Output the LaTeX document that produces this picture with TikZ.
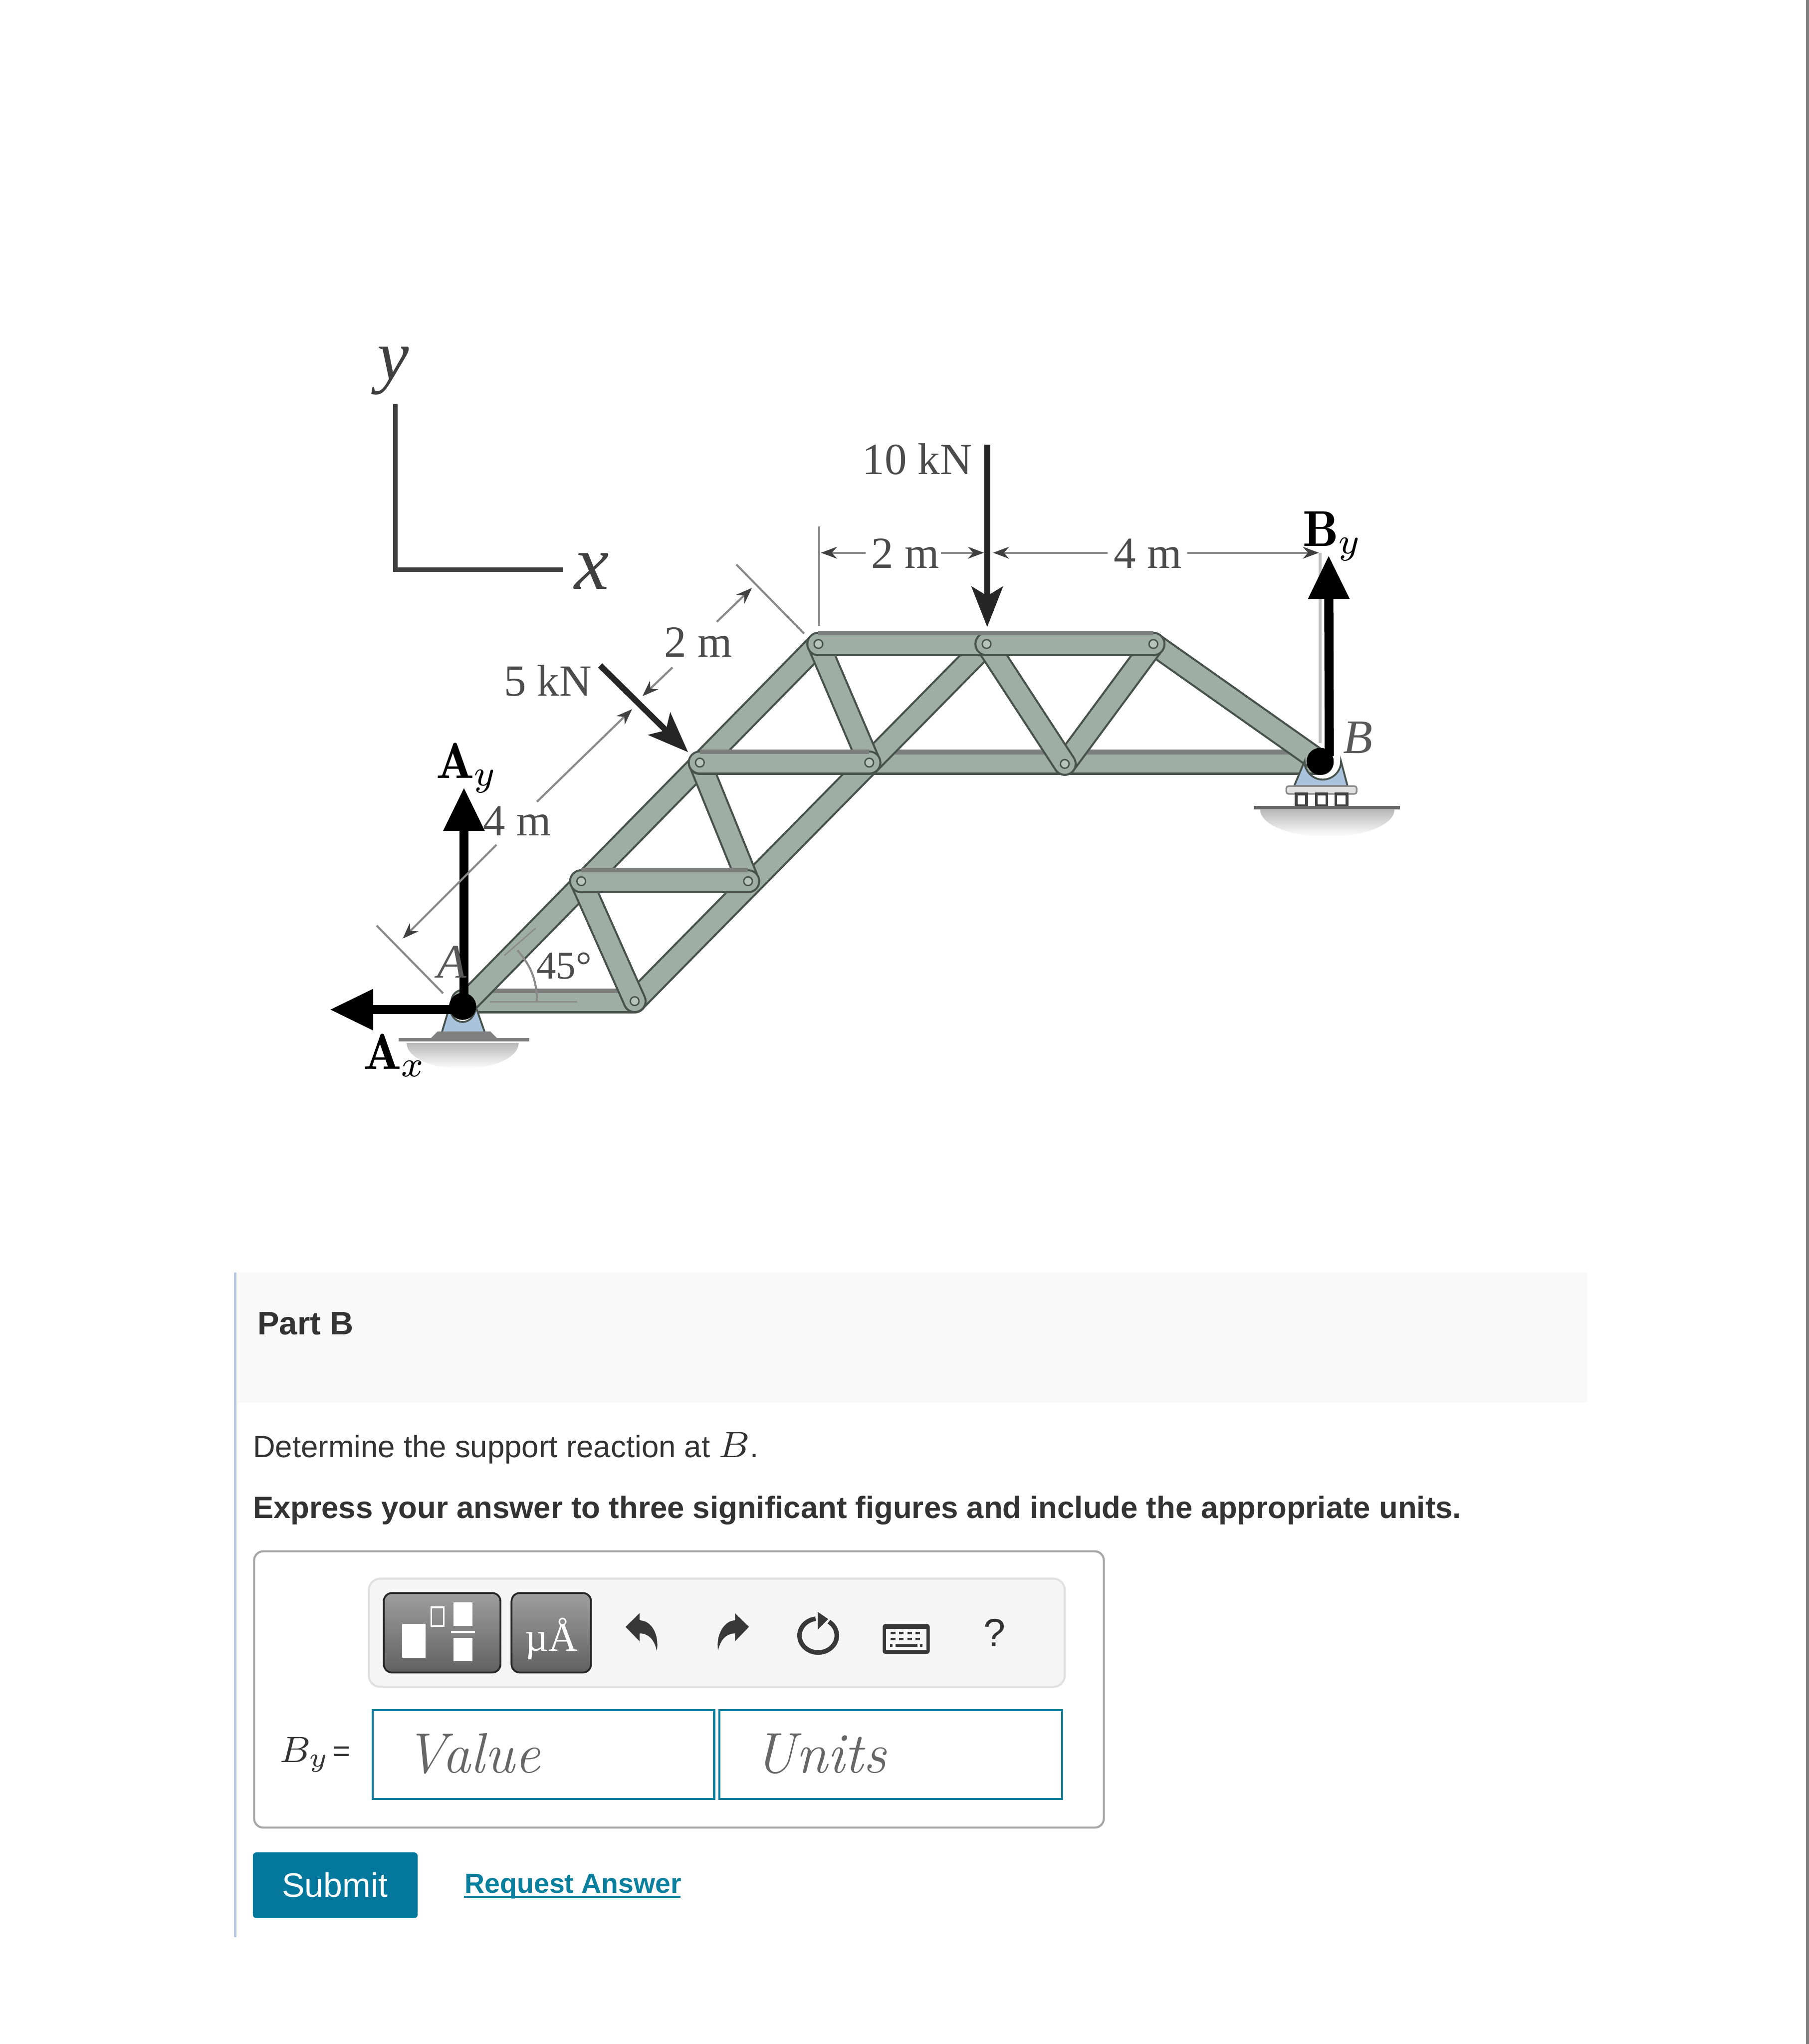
\documentclass[tikz,border=0pt]{standalone}
\usepackage{fontspec}
\usepackage{xcolor}
\usetikzlibrary{
	arrows.meta,
	calc
}
\newfontfamily\arialfont{Liberation Sans}
\newfontfamily\timesfont{Liberation Serif}
\definecolor{trussgray}{HTML}{9EAEA5}
\definecolor{trussdark}{HTML}{47524D}
\definecolor{trussedge}{HTML}{7D7F7E}
\definecolor{pinfill}{HTML}{B8C3BC}
\definecolor{gusset}{HTML}{A9C3DC}
\definecolor{dimgray}{HTML}{8A8A8A}
\definecolor{bodygray}{HTML}{333333}
\definecolor{linkblue}{HTML}{0B7F9E}
\definecolor{buttonblue}{HTML}{04789C}
\definecolor{inputblue}{HTML}{0B7A9C}
\definecolor{partrule}{HTML}{B7CBE0}
\tikzset{
	member/.style={draw=trussdark, line width=.45pt, double=trussgray, double distance=4.3pt, line cap=round},
	barmember/.style={draw=trussdark, line width=.45pt, double=trussgray, double distance=4.4pt, line cap=round},
	baredge/.style={draw=trussedge, line width=1pt},
	jointpin/.style={circle, draw=trussdark, fill=pinfill, line width=.3pt, minimum size=1.9pt, inner sep=0pt},
	blackpin/.style={circle, fill=black, minimum size=5.9pt, inner sep=0pt},
	reaction/.style={black, line width=2pt, -{Triangle[length=9.5pt,width=8.5pt]}},
	loadarrow/.style={draw=black!85, line width=1.3pt, -{Stealth[length=8.8pt,width=6.8pt,inset=2pt]}},
	dimline/.style={draw=dimgray, line width=.45pt},
	dimtip/.style={draw=dimgray, line width=.45pt, -{Stealth[length=3.5pt,width=2.6pt,black!75]}},
	dimtext/.style={anchor=base west, inner sep=0pt, text=black!70, font=\timesfont\fontsize{9.7}{11}\selectfont},
	forcetext/.style={anchor=base west, inner sep=0pt, text=black, font=\fontsize{11}{13}\selectfont},
	axistext/.style={anchor=base west, inner sep=0pt, text=black!75, font=\timesfont\itshape\fontsize{17}{20}\selectfont},
	pointtext/.style={anchor=base west, inner sep=0pt, text=black!65, font=\timesfont\itshape\fontsize{10.5}{12}\selectfont},
	webtext/.style={anchor=base west, inner sep=0pt, text=bodygray, font=\arialfont\fontsize{6.72}{9}\selectfont},
	webbold/.style={webtext, font=\arialfont\bfseries\fontsize{6.72}{9}\selectfont},
	inputbox/.style={draw=inputblue, line width=.45pt, fill=white},
	toolbutton/.style={draw=black!85, line width=.4pt, rounded corners=1.8pt, top color=black!38, bottom color=black!62},
	whitebox/.style={fill=white, draw=none},
	icondark/.style={fill=black!78, draw=none}
}
\begin{document}
\begin{tikzpicture}[x=.01cm, y=-.01cm]
	\useasboundingbox (0,0) rectangle (1388,1568);
	\draw[black!50, line width=.6pt] (1387,0) to (1387,1568);

	\coordinate (A) at (355,772);
	\coordinate (Abar) at (355,768);
	\coordinate (C) at (487,768);
	\coordinate (D) at (446,676);
	\coordinate (E) at (574,676);
	\coordinate (F) at (537,585);
	\coordinate (G) at (667,585);
	\coordinate (H) at (628,494);
	\coordinate (I) at (757,494);
	\coordinate (J) at (885,494);
	\coordinate (K) at (817,586);
	\coordinate (B) at (1014,585);

	\draw[black!75, line width=1pt] (303.5,310) to (303.5,437) to (432,437);
	\node[axistext, font=\timesfont\itshape\fontsize{15.5}{18}\selectfont] (ylabel) at (289,291) {y};
	\node[axistext] (xlabel) at (440,452) {x};

	\shade[top color=black!28, bottom color=white] (312,800) arc[start angle=180, end angle=0, x radius=43, y radius=20] -- cycle;
	\shade[top color=black!28, bottom color=white] (967,621) arc[start angle=180, end angle=0, x radius=51.5, y radius=21] -- cycle;

	\draw[barmember] (Abar) to (C);
	\draw[barmember] (G) to (B);
	\draw[baredge] ([yshift=2.3pt]Abar) to ([yshift=2.3pt]C);
	\draw[baredge] ([yshift=2.3pt]G) to ([yshift=2.3pt]B);
	\draw[member] (A) to (H);
	\draw[member] (C) to (I);
	\draw[member] (J) to (B);
	\draw[member] (H) to (G);
	\draw[member] (F) to (E);
	\draw[member] (D) to (C);
	\draw[member] (J) to (K);
	\draw[member] (I) to (K);
	\draw[barmember] (D) to (E);
	\draw[barmember] (F) to (G);
	\draw[barmember] (H) to (I);
	\draw[barmember] (I) to (J);
	\draw[baredge] ([yshift=2.4pt]D) to ([yshift=2.4pt]E);
	\draw[baredge] ([yshift=2.4pt]F) to ([yshift=2.4pt]G);
	\draw[baredge] ([yshift=2.4pt]H) to ([yshift=2.4pt]J);
	\draw[black!45, line width=.3pt] (376,768.5) to (443,768.5);
	\draw[black!45, line width=.3pt] (387,733) to (411,712);

	\node[jointpin] (pinC) at (C) {};
	\node[jointpin] (pinD) at (D) {};
	\node[jointpin] (pinE) at (E) {};
	\node[jointpin] (pinF) at (F) {};
	\node[jointpin] (pinG) at (G) {};
	\node[jointpin] (pinH) at (H) {};
	\node[jointpin] (pinI) at (I) {};
	\node[jointpin] (pinJ) at (J) {};
	\node[jointpin] (pinK) at (K) {};

	\draw[trussdark, fill=gusset, line width=.4pt] (339,792) to (345,772) arc[start angle=180, end angle=360, x radius=10, y radius=-12] to (372,792) to cycle;
	\draw[fill=black!50, draw=black!50] (336,792) to (376,792) to (381,797) to (331,797) to cycle;
	\draw[black!50, line width=.8pt] (306,797.5) to (406,797.5);
	\draw[trussdark, fill=gusset, line width=.4pt] (993,603) to (1001,584) arc[start angle=180, end angle=360, x radius=14, y radius=-14] to (1034,603) to cycle;
	\draw[fill=black!12, draw=black!45, line width=.35pt, rounded corners=.5pt] (987,603) rectangle (1041,609);
	\draw[fill=white, draw=black!75, line width=.6pt] (994.5,609) rectangle (1002.5,618);
	\draw[fill=white, draw=black!75, line width=.6pt] (1010,609) rectangle (1018,618);
	\draw[fill=white, draw=black!75, line width=.6pt] (1025,609) rectangle (1033.5,618);
	\draw[black!60, line width=.7pt] (962,619.5) to (1074,619.5);

	\node[blackpin] (pinA) at (A) {};
	\node[blackpin] (pinB) at (1013,584) {};

	\coordinate (Aytip) at (356,604);
	\coordinate (Axtip) at (253,774.5);
	\coordinate (Bytail) at (1020,580);
	\coordinate (Bytip) at (1019.5,426);
	\draw[reaction] ($(A)+(1,0)$) to (Aytip);
	\draw[reaction] ($(A)+(0,2.5)$) to (Axtip);
	\draw[black!25, line width=.7pt] (1013,424) to (1013,570);
	\draw[reaction] (Bytail) to (Bytip);

	\coordinate (tenkntop) at (757.5,341);
	\coordinate (tenkntip) at (757.5,481);
	\coordinate (fivekntop) at (460.5,510.5);
	\coordinate (fivekntip) at (528,577);
	\draw[loadarrow] (tenkntop) to (tenkntip);
	\draw[loadarrow] (fivekntop) to (fivekntip);

	\draw[dimline] (628.5,404) to (628.5,480);
	\draw[dimtip] (664,424) to (630,424);
	\draw[dimtip] (722,424) to (755,424);
	\draw[dimtip] (796,424) to (762,424);
	\draw[dimline] (796,424) to (850,424);
	\draw[dimtip] (911,424) to (1012,424);
	\draw[dimline] (565,433) to (617,486);
	\draw[dimline] (289,710) to (340,762);
	\draw[dimtip] (550,477) to (577,451);
	\draw[dimtip] (516,512) to (493,534);
	\draw[dimtip] (412,615) to (485,544);
	\draw[dimtip] (381,648) to (309,720);

	\node[dimtext] (tenkn) at (661,364) {10 kN};
	\node[dimtext] (fivekn) at (386,534) {5 kN};
	\node[dimtext] (topleft) at (668,436) {2 m};
	\node[dimtext] (topright) at (854,436) {4 m};
	\node[dimtext] (slopetop) at (509,504) {2 m};
	\node[dimtext] (slopelow) at (370,641) {4 m};
	\node[dimtext, font=\timesfont\fontsize{8.6}{10}\selectfont] (angle) at (411,751) {45°};
	\draw[dimline] (397,729) to[bend left=20] (412,768);
	\node[pointtext] (labelA) at (335,750) {A};
	\node[pointtext] (labelB) at (1030,578) {B};
	\node[forcetext] (labelAy) at (334,597) {$\mathbf{A}_y$};
	\node[forcetext] (labelAx) at (278,820) {$\mathbf{A}_x$};
	\node[forcetext] (labelBy) at (999,419) {$\mathbf{B}_y$};

	\fill[black!2.5] (182,976) rectangle (1218,1076);
	\draw[partrule, line width=.5pt] (180.5,976) to (180.5,1486);
	\node[webbold, font=\arialfont\bfseries\fontsize{7.1}{9}\selectfont] (partb) at (197,1024) {Part B};
	\node[webtext] (question) at (193.5,1118) {Determine the support reaction at {\fontsize{8.3}{9}\selectfont$B$}.};
	\node[webbold] (express) at (193.5,1164.5) {Express your answer to three significant figures and include the appropriate units.};

	\draw[black!35, line width=.45pt, rounded corners=2pt] (195,1190) rectangle (847,1402);
	\draw[black!12, line width=.45pt, rounded corners=2.5pt, fill=black!4] (283,1211) rectangle (817,1294);
	\draw[toolbutton] (294.5,1222) rectangle (384,1283);
	\draw[toolbutton] (392.5,1222) rectangle (453.5,1283);
	\fill[whitebox] (308.5,1245.5) rectangle (326.5,1271.5);
	\draw[white, line width=.35pt] (331,1233) rectangle (340.5,1247.5);
	\fill[whitebox] (348,1229) rectangle (362.5,1247);
	\fill[whitebox] (346,1251) rectangle (364.5,1252.8);
	\fill[whitebox] (348,1256.5) rectangle (362.5,1274.5);
	\node[anchor=base, inner sep=0pt, text=white, font=\timesfont\fontsize{8.8}{11}\selectfont] (mulabel) at (423,1266.5) {µÅ};

	\fill[icondark] (480,1248) to (490.7,1237.5) to (490.7,1243) .. controls (500,1243) and (506,1254) .. (504,1266.5) .. controls (502,1257) and (497,1253) .. (490.7,1253) to (490.7,1259) to cycle;
	\fill[icondark] (574.7,1248) to (564,1237.5) to (564,1243) .. controls (556,1243) and (549,1254) .. (551,1266) .. controls (553,1257) and (558,1253) .. (564,1253) to (564,1259) to cycle;
	\coordinate (reloadstart) at (636,1244);
	\draw[black!78, line width=1pt] (reloadstart) arc[start angle=-55, end angle=262, x radius=14.3, y radius=13];
	\fill[icondark] (635.5,1242) to (627.5,1236.5) to (627.5,1250) to cycle;
	\draw[black!78, fill=black!78, rounded corners=.4pt] (678,1246.5) rectangle (712.7,1268);
	\fill[black!3] (680,1249.5) rectangle (711,1266);
	\draw[black!78, line width=.5pt, dash pattern=on 1pt off .8pt] (683.5,1252.8) to (708,1252.8);
	\draw[black!78, line width=.5pt, dash pattern=on 1pt off .8pt] (683.5,1257.4) to (708,1257.4);
	\draw[black!78, line width=.5pt] (683,1262.3) to (685,1262.3);
	\draw[black!78, line width=.5pt] (687.3,1262.3) to (703.8,1262.3);
	\draw[black!78, line width=.5pt] (706,1262.3) to (708,1262.3);
	\node[anchor=base, inner sep=0pt, text=bodygray, font=\arialfont\fontsize{8.6}{10}\selectfont] (helpmark) at (763,1263) {?};

	\node[anchor=base west, inner sep=0pt, text=bodygray, font=\fontsize{8}{10}\selectfont] (bylabel) at (214,1352) {$B_y$};
	\node[anchor=base west, inner sep=0pt, text=bodygray, font=\arialfont\fontsize{6.5}{8}\selectfont] (byequals) at (255,1351) {=};
	\draw[inputbox] (286,1312) rectangle (548,1380);
	\draw[inputbox] (552,1312) rectangle (815,1380);
	\node[anchor=base west, inner sep=0pt, text=black!60, font=\itshape\fontsize{12.4}{15}\selectfont] (valuetext) at (310,1360) {Value};
	\node[anchor=base west, inner sep=0pt, text=black!60, font=\itshape\fontsize{12.5}{15}\selectfont] (unitstext) at (578,1360) {Units};

	\fill[buttonblue, rounded corners=.8pt] (194,1421) rectangle (320.5,1471.5);
	\node[anchor=center, inner sep=0pt, text=white, font=\arialfont\fontsize{7.4}{9}\selectfont] (submit) at (257,1446) {Submit};
	\node[anchor=base west, inner sep=0pt, text=linkblue, font=\arialfont\bfseries\fontsize{6.03}{8}\selectfont] (request) at (356,1452) {Request Answer};
	\draw[linkblue, line width=.5pt] (356,1455) to (522,1455);
\end{tikzpicture}
\end{document}
